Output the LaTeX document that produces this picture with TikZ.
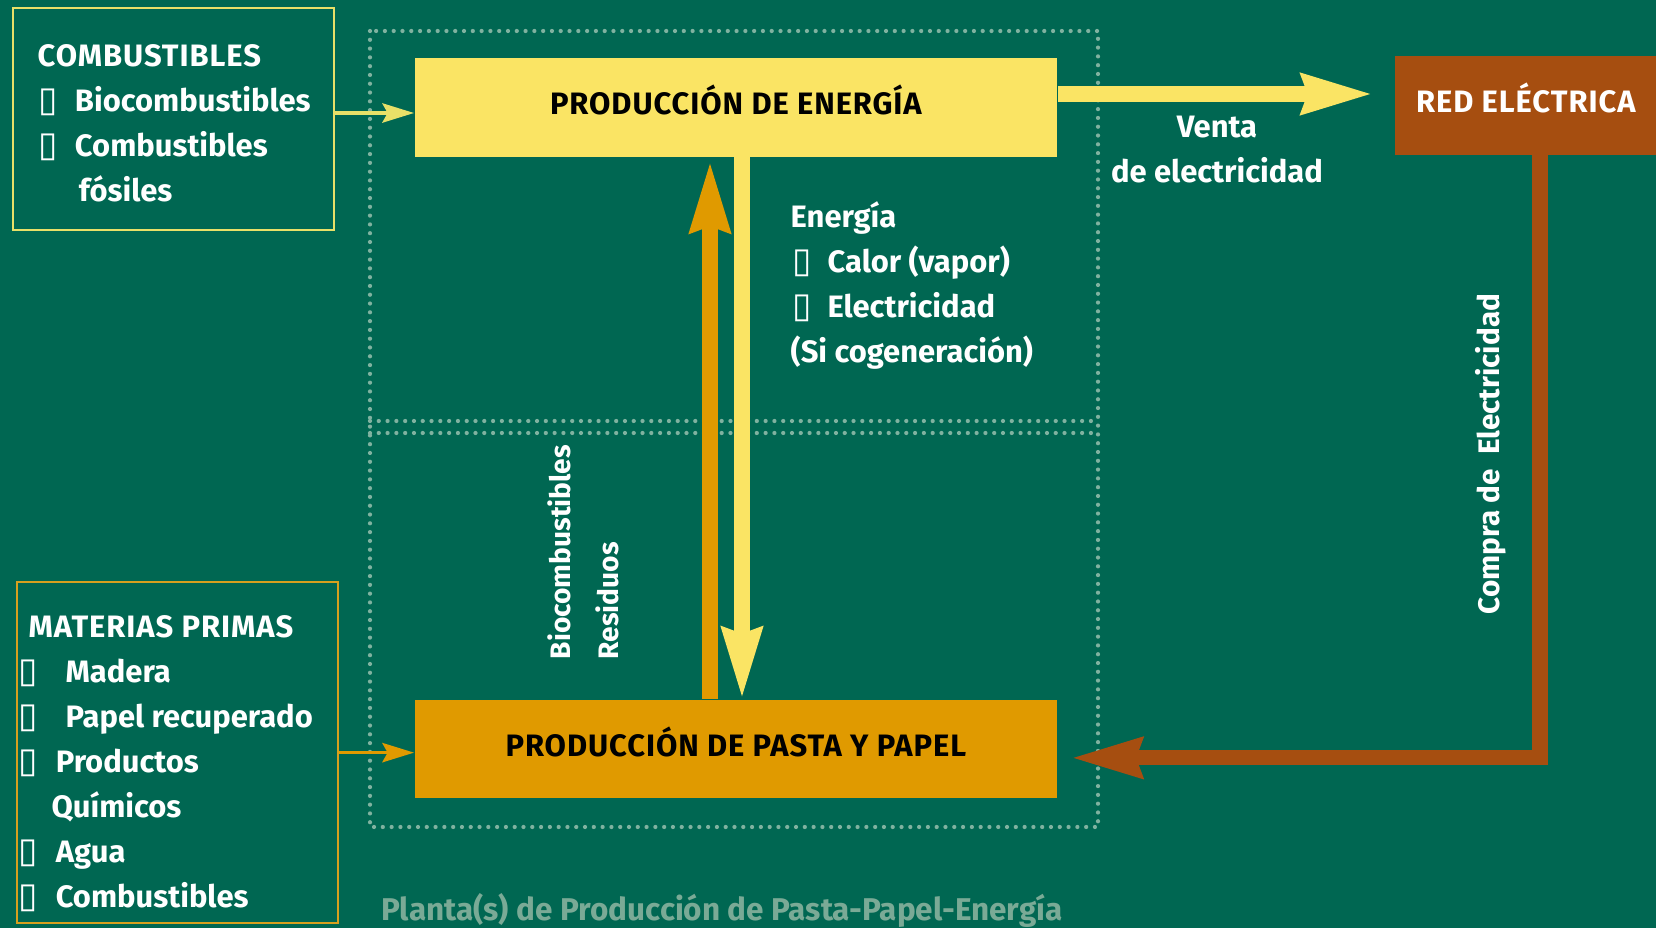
\documentclass[tikz,border=0pt]{standalone}
\usepackage{fontspec}
\setmainfont{Fira Sans}
\newfontfamily\boxfont{DejaVu Sans}
\usetikzlibrary{arrows.meta}
\definecolor{bg_green}{RGB}{0,103,82}
\definecolor{en_yellow}{RGB}{250,228,100}
\definecolor{pp_orange}{RGB}{224,154,0}
\definecolor{red_brown}{RGB}{166,78,16}
\definecolor{comb_line}{RGB}{232,224,104}
\definecolor{mat_line}{RGB}{214,160,30}
\definecolor{dot_grey}{RGB}{128,178,160}
\definecolor{title_grey}{RGB}{122,170,150}
\newcommand{\bx}{{\boxfont\fontsize{10}{10}\selectfont\symbol{"25AF}}}
\newcommand{\hd}[1]{{\addfontfeature{LetterSpace=3}#1}}
\tikzstyle{txt}=[text=white,inner sep=0pt,
  font=\bfseries\fontsize{8.8}{12.8}\selectfont]
\tikzstyle{inbox}=[draw,line width=0.6pt,anchor=north west,inner sep=0pt]
\tikzstyle{pbox}=[anchor=north west,inner sep=0pt,text height=6pt,text depth=1.6pt,
  font=\bfseries\fontsize{8.8}{10}\selectfont]
\tikzstyle{flow}=[line width=4.3pt,
  -{Stealth[length=20pt,width=11pt,inset=1.5pt]}]
\tikzstyle{feed}=[line width=0.9pt,
  -{Stealth[length=9pt,width=5.5pt,inset=1.5pt]}]
\tikzstyle{dotline}=[draw=dot_grey,line width=1.2pt,line cap=round,
  dash pattern=on 0pt off 2.5pt]

\begin{document}
\begin{tikzpicture}[x=0.01cm,y=-0.01cm]
  \fill[bg_green] (0,0) rectangle (1656,928);
  \useasboundingbox (0,0) rectangle (1656,928);
  % plant frame
  \draw[dotline] (370,31) rectangle (1098,827);
  \draw[dotline] (370,421) -- (1098,421);
  \draw[dotline] (370,433) -- (1098,433);
  % boxes
  \node[pbox,fill=en_yellow,minimum width=6.42cm,minimum height=0.99cm] (en) at (414,57) {\hd{PRODUCCIÓN DE ENERGÍA}};
  \node[pbox,fill=pp_orange,minimum width=6.42cm,minimum height=0.98cm] (pp) at (414,699) {\hd{PRODUCCIÓN DE PASTA Y PAPEL}};
  \node[pbox,fill=red_brown,text=white,minimum width=2.62cm,minimum height=0.99cm] (red) at (1394,55) {\hd{RED ELÉCTRICA}};
  \node[inbox,draw=comb_line,minimum width=3.21cm,minimum height=2.22cm] (comb) at (12,7) {};
  \node[inbox,draw=mat_line,minimum width=3.21cm,minimum height=3.41cm] (mat) at (16,581) {};
  % texts
  \node[txt,anchor=north west,align=left] (combtxt) at (37,44) {\hd{COMBUSTIBLES}\\
    \hspace*{0.3pt}\makebox[10.3pt][l]{\bx}Biocombustibles\\
    \hspace*{0.3pt}\makebox[10.3pt][l]{\bx}Combustibles\\
    \hspace*{11.7pt}fósiles};
  \node[txt,anchor=north west,align=left] (mattxt) at (28,615) {\hd{MATERIAS PRIMAS}\\
    \hspace*{-2.8pt}\makebox[13.3pt][l]{\bx}Madera\\
    \hspace*{-2.8pt}\makebox[13.3pt][l]{\bx}Papel recuperado\\
    \hspace*{-2.8pt}\makebox[10.5pt][l]{\bx}Productos\\
    \hspace*{6.5pt}Químicos\\
    \hspace*{-2.8pt}\makebox[10.5pt][l]{\bx}Agua\\
    \hspace*{-2.8pt}\makebox[10.5pt][l]{\bx}Combustibles};
  \node[txt,anchor=north west,align=left] (entxt) at (790,201) {Energía\\
    \hspace*{0.4pt}\makebox[10.1pt][l]{\bx}Calor (vapor)\\
    \hspace*{0.4pt}\makebox[10.1pt][l]{\bx}Electricidad\\
    (Si cogeneración)};
  \node[txt,align=center] (venta) at (1217,150) {Venta\\de electricidad};
  \node[txt,rotate=90,font=\bfseries\fontsize{8.45}{10}\selectfont] (compra) at (1491,454) {Compra de \ Electricidad};
  \node[txt,rotate=90,anchor=base west,font=\bfseries\fontsize{8}{10}\selectfont] (bio) at (570,660) {Biocombustibles};
  \node[txt,rotate=90,anchor=base west,font=\bfseries\fontsize{8}{10}\selectfont] (res) at (618,660) {Residuos};
  \node[txt,text=title_grey,font=\bfseries\fontsize{8.95}{11}\selectfont] (planta) at (722,910) {Planta(s) de Producción de Pasta-Papel-Energía};
  % arrows
  \draw[feed,draw=comb_line] (comb.east |- 0,113) -- (en.west |- 0,113);
  \draw[feed,draw=pp_orange] (mat.east) -- (pp.west |- mat.east);
  \draw[flow,draw=en_yellow,shorten >=6pt] (en.east |- 0,94) -- (red.west |- 0,94);
  \draw[flow,draw=en_yellow] (en.south -| 742,0) -- (pp.north -| 742,0);
  \draw[flow,draw=pp_orange,shorten >=1pt] (pp.north -| 710,0) -- (en.south -| 710,0);
  \draw[flow,draw=red_brown,shorten >=3.7pt] (red.south -| 1540,0) |- ([yshift=-2.6pt]pp.east);
\end{tikzpicture}
\end{document}
